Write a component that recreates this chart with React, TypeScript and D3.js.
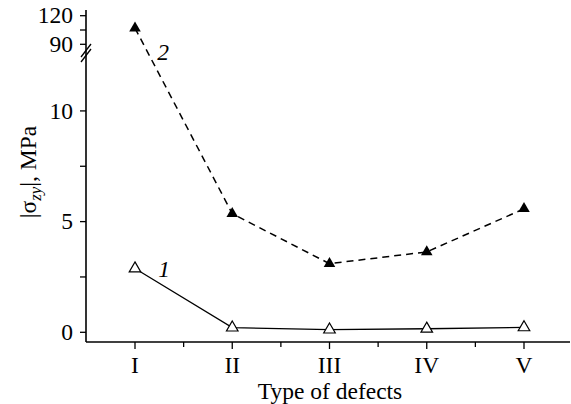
import React from 'react';
import * as d3 from 'd3';

const categories = ['I', 'II', 'III', 'IV', 'V'];
const series1 = [2.88, 0.21, 0.12, 0.16, 0.22];
const series2 = [107, 5.36, 3.1, 3.63, 5.58];
const lowerTicks = [0, 2.5, 5, 7.5, 10];
const lowerLabels = [0, 5, 10];
const upperTicks = [90, 105, 120];
const upperLabels = [90, 120];

const W = 571;
const H = 404;
const axisX = 86;
const axisY = 342;
const breakValue = 90;

export default function App() {
  const x = d3.scalePoint<string>().domain(categories).range([135, 524]);
  const step = x.step();
  const yLow = d3.scaleLinear().domain([0, 12.3]).range([332.3, 60]);
  const yHigh = d3.scaleLinear().domain([90, 120]).range([44.3, 15.7]);
  const y = (v: number) => (v >= breakValue ? yHigh(v) : yLow(v));

  const line = d3.line<number>()
    .x((_, i) => x(categories[i]) as number)
    .y(d => y(d));

  const tri = d3.symbol().type(d3.symbolTriangle).size(58)() as string;
  const font = '"Liberation Serif", "Times New Roman", serif';

  const minorX = categories.slice(0, -1).map(c => (x(c) as number) + step / 2);

  return (
    <svg width={W} height={H} style={{ position: 'absolute', left: 0, top: 0, background: '#fff' }}
      fontFamily={font} fontSize={23.5}>
      {/* axes */}
      <line x1={axisX} x2={axisX} y1={10} y2={axisY} stroke="#000" strokeWidth={1.6} />
      <line x1={axisX} x2={570} y1={axisY} y2={axisY} stroke="#000" strokeWidth={1.6} />
      {/* axis break marks */}
      <line x1={81} y1={57} x2={91} y2={44} stroke="#000" strokeWidth={1.3} />
      <line x1={81} y1={62} x2={91} y2={49} stroke="#000" strokeWidth={1.3} />

      {lowerTicks.map(t => (
        <line key={'lt' + t} x1={axisX - 6} x2={axisX} y1={yLow(t)} y2={yLow(t)} stroke="#000" strokeWidth={1.3} />
      ))}
      {upperTicks.map(t => (
        <line key={'ut' + t} x1={axisX - 6} x2={axisX} y1={yHigh(t)} y2={yHigh(t)} stroke="#000" strokeWidth={1.3} />
      ))}
      {lowerLabels.map(t => (
        <text key={'ll' + t} x={73} y={yLow(t)} dy="0.33em" textAnchor="end">{t}</text>
      ))}
      {upperLabels.map(t => (
        <text key={'ul' + t} x={73} y={yHigh(t)} dy="0.33em" textAnchor="end">{t}</text>
      ))}

      {categories.map(c => (
        <g key={'xt' + c}>
          <line x1={x(c)} x2={x(c)} y1={axisY} y2={axisY + 7} stroke="#000" strokeWidth={1.3} />
          <text x={x(c)} y={373} textAnchor="middle">{c}</text>
        </g>
      ))}
      {minorX.map((mx, i) => (
        <line key={'mx' + i} x1={mx} x2={mx} y1={axisY} y2={axisY + 5} stroke="#000" strokeWidth={1.3} />
      ))}

      <text x={330} y={398.5} textAnchor="middle">Type of defects</text>
      <text transform="translate(36,172) rotate(-90)" textAnchor="middle">
        |σ<tspan fontStyle="italic" fontSize={17} dy={5}>zy</tspan><tspan dy={-5}>|, MPa</tspan>
      </text>

      {/* series 2 */}
      <path d={line(series2) as string} fill="none" stroke="#000" strokeWidth={1.5} strokeDasharray="7,5" />
      {series2.map((v, i) => (
        <path key={'s2' + i} d={tri} transform={`translate(${x(categories[i])},${y(v)})`} fill="#000" />
      ))}
      {/* series 1 */}
      <path d={line(series1) as string} fill="none" stroke="#000" strokeWidth={1.3} />
      {series1.map((v, i) => (
        <path key={'s1' + i} d={tri} transform={`translate(${x(categories[i])},${y(v)})`} fill="#fff" stroke="#000" strokeWidth={1.2} />
      ))}

      <text x={163} y={60} fontStyle="italic" textAnchor="middle">2</text>
      <text x={164} y={277} fontStyle="italic" textAnchor="middle">1</text>
    </svg>
  );
}
